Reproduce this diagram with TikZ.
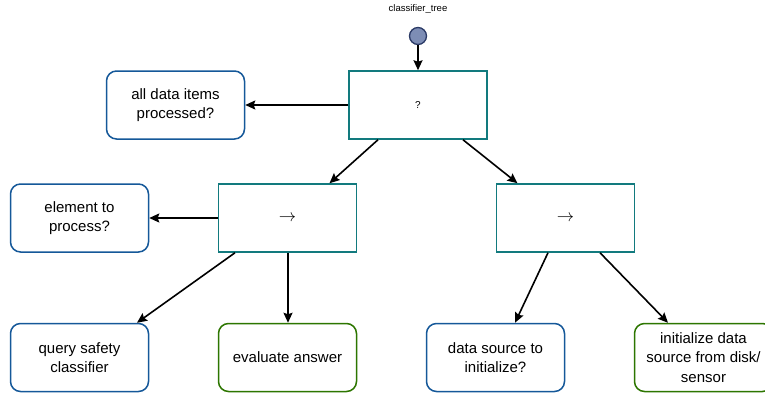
\documentclass[tikz,border=0pt]{standalone}
\usepackage{fontspec}
\setmainfont{Liberation Sans}
\usetikzlibrary{arrows.meta,calc}
\definecolor{tealc}{HTML}{127A7E}
\definecolor{bluec}{HTML}{155899}
\definecolor{greenc}{HTML}{2D7600}
\definecolor{circfill}{HTML}{7D8DB5}
\definecolor{circline}{HTML}{2B3A66}
\tikzset{
  ctrl/.style={draw=tealc, line width=1.5pt, minimum width=138pt, minimum height=68pt, inner sep=0pt, fill=white},
  cond/.style={draw=bluec, line width=1.5pt, rounded corners=10pt, minimum width=138pt, minimum height=68pt, inner sep=0pt, align=center, font=\fontsize{15}{19.5}\selectfont, fill=white},
  act/.style={cond, draw=greenc},
  arr/.style={line width=1.6pt, -{Stealth[length=10pt,width=9pt,inset=1.5pt]}}
}
\begin{document}
\begin{tikzpicture}[x=1pt,y=-1pt]
\useasboundingbox (0,0) rectangle (765,394);
\clip (0,0) rectangle (765,394);
\fill[white] (0,0) rectangle (765,394);
\node[font=\fontsize{9.5}{11}\selectfont] (title) at (418,9) {classifier\_tree};
\node[circle, draw=circline, fill=circfill, line width=1.3pt, minimum size=17pt, inner sep=0pt] (start) at (418,36) {};
\node[ctrl, font=\fontsize{10}{11}\selectfont] (root) at (418,105) {?};
\node[cond] (alldata) at (175.5,105) {all data items\\processed?};
\node[ctrl, font=\fontsize{18}{19}\selectfont] (seq1) at (287.5,218) {$\rightarrow$};
\node[ctrl, font=\fontsize{18}{19}\selectfont] (seq2) at (565.5,218) {$\rightarrow$};
\node[cond] (elem) at (79.5,218) {element to\\process?};
\node[cond] (query) at (79.5,357.5) {query safety\\classifier};
\node[act] (evalans) at (287.5,357.5) {evaluate answer};
\node[cond] (dsrc) at (495.5,357.5) {data source to\\initialize?};
\node[act] (init) at (703.5,357.5) {initialize data\\source from disk/\\sensor};
\draw[arr] (start) -- (root);
\draw[arr] (root.west) -- (alldata.east);
\draw[arr] ($(root.south)+(-40,0)$) -- ($(seq1.north)+(42,0)$);
\draw[arr] ($(root.south)+(45,0)$) -- ($(seq2.north)+(-48,0)$);
\draw[arr] (seq1.west) -- (elem.east);
\draw[arr] ($(seq1.south)+(-52.5,0)$) -- ($(query.north)+(57.5,0)$);
\draw[arr] ($(seq1.south)+(0.5,0)$) -- ($(evalans.north)+(0.5,0)$);
\draw[arr] ($(seq2.south)+(-17.5,0)$) -- ($(dsrc.north)+(19.5,0)$);
\draw[arr] ($(seq2.south)+(34.5,0)$) -- ($(init.north)+(-35.5,0)$);
\end{tikzpicture}
\end{document}
